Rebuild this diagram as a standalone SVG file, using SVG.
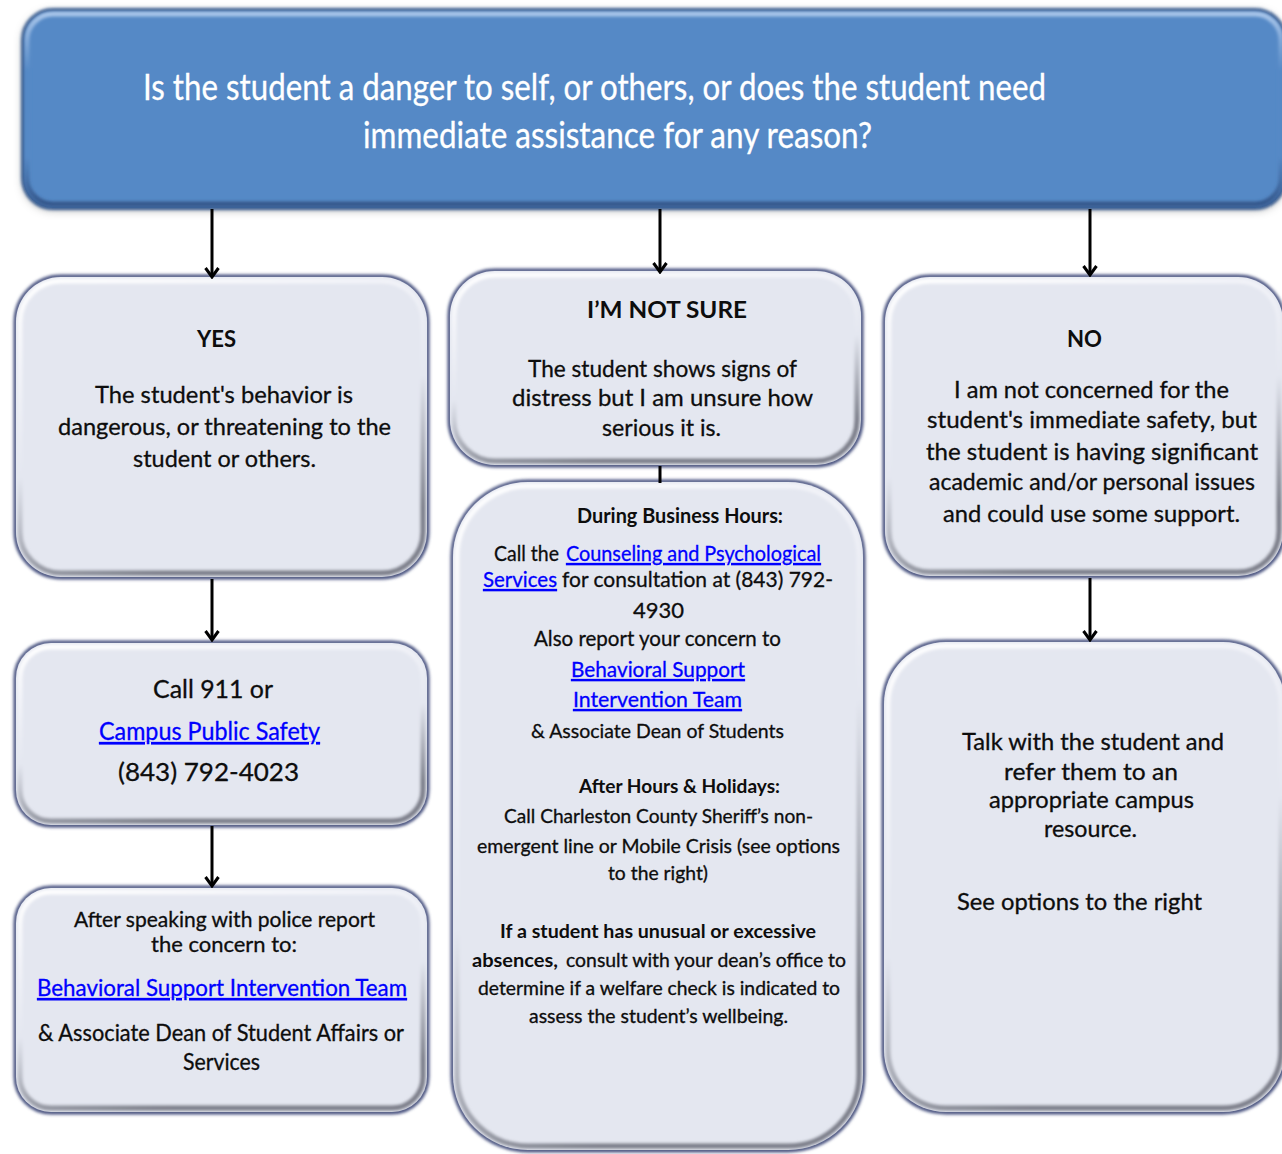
<svg xmlns="http://www.w3.org/2000/svg" width="1282" height="1154" viewBox="0 0 1282 1154">
  <defs>
    <style>
      .t{font-family:Lato,"Open Sans","Liberation Sans",sans-serif;fill:#0d0d0d;stroke:#0d0d0d;stroke-width:0.3;}
      .b{font-weight:700;stroke-width:0;}
      .lk{fill:#0000FF;stroke:#0000FF;text-decoration:underline;}
      .w{fill:#fff;stroke:#fff;}
      .edge{fill:none;stroke:#46517F;stroke-width:5;}
      .body{fill:#E4E7F0;}
      .bev{fill:none;stroke:url(#bev);stroke-width:5;}
      .qedge{fill:none;stroke:#3B5F93;stroke-width:4;}
      .qbody{fill:#5589C6;}
      .qbev{fill:none;stroke:url(#qbev);stroke-width:5;}
      .conn{stroke:#000;stroke-width:3;fill:none;}
    </style>
    <filter id="blur2" x="-5%" y="-5%" width="110%" height="110%">
      <feGaussianBlur stdDeviation="1.8"/>
    </filter>
    <filter id="blur1" x="-5%" y="-5%" width="110%" height="110%">
      <feGaussianBlur stdDeviation="1.4"/>
    </filter>
    <filter id="qshadow" x="-5%" y="-10%" width="110%" height="125%">
      <feDropShadow dx="0" dy="2" stdDeviation="5" flood-color="#000" flood-opacity="0.3"/>
    </filter>
    <linearGradient id="bev" x1="0" y1="0" x2="0.35" y2="1">
      <stop offset="0" stop-color="#FFFFFF"/>
      <stop offset="0.25" stop-color="#F3F4F9"/>
      <stop offset="0.6" stop-color="#E4E7F0"/>
      <stop offset="1" stop-color="#7A7D88"/>
    </linearGradient>
    <linearGradient id="qbev" x1="0" y1="0" x2="0" y2="1">
      <stop offset="0" stop-color="#A9C6EA"/>
      <stop offset="0.3" stop-color="#5589C6"/>
      <stop offset="0.75" stop-color="#5589C6"/>
      <stop offset="1" stop-color="#34568A"/>
    </linearGradient>
    <marker id="ah" markerUnits="userSpaceOnUse" markerWidth="14" markerHeight="20" viewBox="-12 -10 14 20" refX="0" refY="0" orient="auto">
      <path d="M-9,-6.5 L0,0 L-9,6.5" fill="none" stroke="#000" stroke-width="3"/>
    </marker>
  </defs>

  <rect width="1282" height="1154" fill="#fff"/>

  <!-- Question node -->
  <g id="n-question">
    <rect x="23" y="10" width="1262" height="198" rx="30" class="qbody" filter="url(#qshadow)"/>
    <rect x="23" y="10" width="1262" height="198" rx="30" class="qedge" filter="url(#blur1)"/>
    <rect x="27" y="14" width="1254" height="190" rx="26" class="qbev" filter="url(#blur1)"/>
    <text class="t w" x="143" y="100" font-size="37" textLength="903" lengthAdjust="spacingAndGlyphs">Is the student a danger to self, or others, or does the student need</text>
    <text class="t w" x="363" y="148" font-size="37" textLength="509" lengthAdjust="spacingAndGlyphs">immediate assistance for any reason?</text>
  </g>

  <!-- YES node -->
  <g id="n-yes">
    <rect x="16" y="277" width="411" height="300" rx="45" class="edge" filter="url(#blur2)"/>
    <rect x="16" y="277" width="411" height="300" rx="45" class="body"/>
    <rect x="20" y="281" width="403" height="292" rx="41" class="bev" filter="url(#blur1)"/>
    <text class="t b" x="197" y="347" font-size="23" textLength="39" lengthAdjust="spacingAndGlyphs">YES</text>
    <text class="t" x="95" y="403" font-size="24" textLength="258" lengthAdjust="spacingAndGlyphs">The student's behavior is</text>
    <text class="t" x="58" y="435" font-size="24" textLength="333" lengthAdjust="spacingAndGlyphs">dangerous, or threatening to the</text>
    <text class="t" x="133" y="467" font-size="24" textLength="183" lengthAdjust="spacingAndGlyphs">student or others.</text>
  </g>

  <!-- NOT SURE node -->
  <g id="n-notsure">
    <rect x="450" y="271" width="411" height="194" rx="45" class="edge" filter="url(#blur2)"/>
    <rect x="450" y="271" width="411" height="194" rx="45" class="body"/>
    <rect x="454" y="275" width="403" height="186" rx="41" class="bev" filter="url(#blur1)"/>
    <text class="t b" x="587" y="318" font-size="23" textLength="160" lengthAdjust="spacingAndGlyphs">I’M NOT SURE</text>
    <text class="t" x="528" y="377" font-size="24" textLength="269" lengthAdjust="spacingAndGlyphs">The student shows signs of</text>
    <text class="t" x="512" y="406" font-size="24" textLength="301" lengthAdjust="spacingAndGlyphs">distress  but I am unsure how</text>
    <text class="t" x="602" y="436" font-size="24" textLength="119" lengthAdjust="spacingAndGlyphs">serious it is.</text>
  </g>

  <!-- Business hours node -->
  <g id="n-business">
    <rect x="453" y="482" width="410" height="668" rx="75" class="edge" filter="url(#blur2)"/>
    <rect x="453" y="482" width="410" height="668" rx="75" class="body"/>
    <rect x="457" y="486" width="402" height="660" rx="71" class="bev" filter="url(#blur1)"/>
    <text class="t b" x="577" y="523" font-size="21" textLength="206" lengthAdjust="spacingAndGlyphs">During Business Hours:</text>
    <text class="t" x="494" y="561" font-size="21" textLength="65" lengthAdjust="spacingAndGlyphs">Call the</text>
    <text class="t lk" x="566" y="561" font-size="21" textLength="255" lengthAdjust="spacingAndGlyphs">Counseling and Psychological</text>
    <text class="t lk" x="483" y="587" font-size="21" textLength="74" lengthAdjust="spacingAndGlyphs">Services</text>
    <text class="t" x="562" y="587" font-size="21" textLength="271" lengthAdjust="spacingAndGlyphs">for consultation at (843) 792-</text>
    <text class="t" x="633" y="618" font-size="21" textLength="51" lengthAdjust="spacingAndGlyphs">4930</text>
    <text class="t" x="534" y="646" font-size="21" textLength="247" lengthAdjust="spacingAndGlyphs">Also report your concern to</text>
    <text class="t lk" x="571" y="677" font-size="21" textLength="174" lengthAdjust="spacingAndGlyphs">Behavioral Support</text>
    <text class="t lk" x="573" y="707" font-size="21" textLength="169" lengthAdjust="spacingAndGlyphs">Intervention Team</text>
    <text class="t" x="531" y="738" font-size="19.5" textLength="253" lengthAdjust="spacingAndGlyphs">&amp; Associate Dean of Students</text>
    <text class="t b" x="579" y="793" font-size="18.5" textLength="201" lengthAdjust="spacingAndGlyphs">After Hours &amp;  Holidays:</text>
    <text class="t" x="504" y="823" font-size="18.5" textLength="309" lengthAdjust="spacingAndGlyphs">Call Charleston County Sheriff’s non-</text>
    <text class="t" x="477" y="853" font-size="18.5" textLength="363" lengthAdjust="spacingAndGlyphs">emergent line or Mobile Crisis (see options</text>
    <text class="t" x="608" y="880" font-size="18.5" textLength="100" lengthAdjust="spacingAndGlyphs">to the right)</text>
    <text class="t b" x="500" y="938" font-size="18.5" textLength="316" lengthAdjust="spacingAndGlyphs">If a student has unusual or excessive</text>
    <text class="t b" x="472" y="967" font-size="18.5" textLength="86" lengthAdjust="spacingAndGlyphs">absences,</text>
    <text class="t" x="566" y="967" font-size="18.5" textLength="280" lengthAdjust="spacingAndGlyphs">consult with your dean’s office to</text>
    <text class="t" x="478" y="995" font-size="18.5" textLength="362" lengthAdjust="spacingAndGlyphs">determine if a welfare check is indicated to</text>
    <text class="t" x="529" y="1023" font-size="18.5" textLength="259" lengthAdjust="spacingAndGlyphs">assess the student’s wellbeing.</text>
  </g>

  <!-- NO node -->
  <g id="n-no">
    <rect x="885" y="277" width="398" height="299" rx="45" class="edge" filter="url(#blur2)"/>
    <rect x="885" y="277" width="398" height="299" rx="45" class="body"/>
    <rect x="889" y="281" width="390" height="291" rx="41" class="bev" filter="url(#blur1)"/>
    <text class="t b" x="1067" y="347" font-size="23" textLength="35" lengthAdjust="spacingAndGlyphs">NO</text>
    <text class="t" x="954" y="398" font-size="23" textLength="275" lengthAdjust="spacingAndGlyphs">I am not concerned for the</text>
    <text class="t" x="927" y="428" font-size="23" textLength="330" lengthAdjust="spacingAndGlyphs">student's  immediate safety, but</text>
    <text class="t" x="926" y="460" font-size="23" textLength="332" lengthAdjust="spacingAndGlyphs">the student is  having significant</text>
    <text class="t" x="929" y="490" font-size="23" textLength="326" lengthAdjust="spacingAndGlyphs">academic and/or  personal issues</text>
    <text class="t" x="943" y="522" font-size="23" textLength="297" lengthAdjust="spacingAndGlyphs">and could use some  support.</text>
  </g>

  <!-- Call 911 node -->
  <g id="n-call">
    <rect x="16" y="643" width="411" height="182" rx="35" class="edge" filter="url(#blur2)"/>
    <rect x="16" y="643" width="411" height="182" rx="35" class="body"/>
    <rect x="20" y="647" width="403" height="174" rx="31" class="bev" filter="url(#blur1)"/>
    <text class="t" x="153" y="698" font-size="24.5" textLength="120" lengthAdjust="spacingAndGlyphs">Call 911  or</text>
    <text class="t lk" x="99" y="740" font-size="24.5" textLength="221" lengthAdjust="spacingAndGlyphs">Campus Public Safety</text>
    <text class="t" x="118" y="781" font-size="24.5" textLength="181" lengthAdjust="spacingAndGlyphs">(843) 792-4023</text>
  </g>

  <!-- After speaking node -->
  <g id="n-after">
    <rect x="16" y="888" width="411" height="224" rx="35" class="edge" filter="url(#blur2)"/>
    <rect x="16" y="888" width="411" height="224" rx="35" class="body"/>
    <rect x="20" y="892" width="403" height="216" rx="31" class="bev" filter="url(#blur1)"/>
    <text class="t" x="74" y="927" font-size="21" textLength="301" lengthAdjust="spacingAndGlyphs">After speaking with police  report</text>
    <text class="t" x="151" y="952" font-size="21" textLength="146" lengthAdjust="spacingAndGlyphs">the concern to:</text>
    <text class="t lk" x="37" y="996" font-size="23" textLength="370" lengthAdjust="spacingAndGlyphs">Behavioral Support Intervention Team</text>
    <text class="t" x="38" y="1041" font-size="22.5" textLength="366" lengthAdjust="spacingAndGlyphs">&amp; Associate Dean of Student Affairs or</text>
    <text class="t" x="183" y="1070" font-size="22.5" textLength="77" lengthAdjust="spacingAndGlyphs">Services</text>
  </g>

  <!-- Talk node -->
  <g id="n-talk">
    <rect x="884" y="642" width="401" height="470" rx="62" class="edge" filter="url(#blur2)"/>
    <rect x="884" y="642" width="401" height="470" rx="62" class="body"/>
    <rect x="888" y="646" width="393" height="462" rx="58" class="bev" filter="url(#blur1)"/>
    <text class="t" x="962" y="750" font-size="23" textLength="262" lengthAdjust="spacingAndGlyphs">Talk with the student and</text>
    <text class="t" x="1004" y="780" font-size="23" textLength="174" lengthAdjust="spacingAndGlyphs">refer them to an</text>
    <text class="t" x="989" y="808" font-size="23" textLength="205" lengthAdjust="spacingAndGlyphs">appropriate campus</text>
    <text class="t" x="1044" y="837" font-size="23" textLength="93" lengthAdjust="spacingAndGlyphs">resource.</text>
    <text class="t" x="957" y="910" font-size="23" textLength="245" lengthAdjust="spacingAndGlyphs">See options to the right</text>
  </g>

  <!-- Connectors -->
  <g id="connectors">
    <line class="conn" x1="212" y1="209" x2="212" y2="277" marker-end="url(#ah)"/>
    <line class="conn" x1="660" y1="209" x2="660" y2="272" marker-end="url(#ah)"/>
    <line class="conn" x1="1090" y1="209" x2="1090" y2="275" marker-end="url(#ah)"/>
    <line class="conn" x1="660" y1="466" x2="660" y2="483"/>
    <line class="conn" x1="212" y1="579" x2="212" y2="640" marker-end="url(#ah)"/>
    <line class="conn" x1="1090" y1="578" x2="1090" y2="640" marker-end="url(#ah)"/>
    <line class="conn" x1="212" y1="826" x2="212" y2="886" marker-end="url(#ah)"/>
  </g>
</svg>
